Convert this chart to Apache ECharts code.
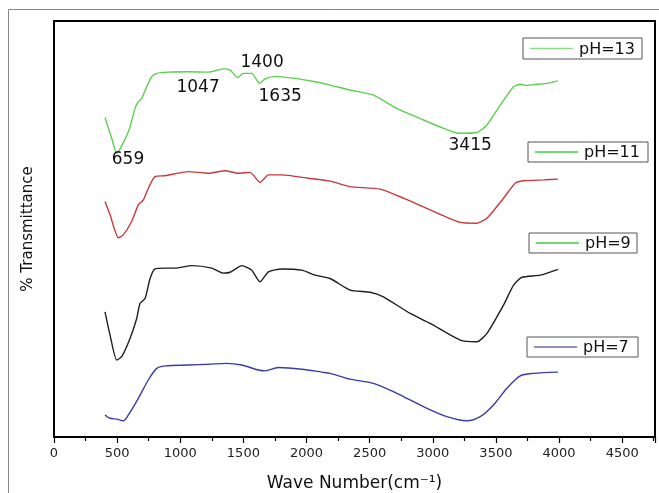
<!DOCTYPE html>
<html>
<head>
<meta charset="utf-8">
<script src="https://cdn.jsdelivr.net/npm/echarts@6/dist/echarts.min.js"></script>
<style>
  html, body { margin: 0; padding: 0; background: #fff; }
  #chart { width: 659px; height: 493px; }
</style>
</head>
<body>
<div id="chart"></div>
<script>
// wave numbers (cm-1) and offset transmittance
const wnPH13 = [404, 457, 497, 589, 642, 668, 695, 734, 774, 814, 906, 1064, 1223, 1342, 1395, 1455, 1500, 1566, 1627, 1672, 1751, 1910, 2068, 2187, 2345, 2530, 2715, 2926, 3085, 3204, 3349, 3429, 3534, 3640, 3693, 3746, 3825, 3904, 3991];
const tPH13 = [76.8, 71.8, 68.2, 73.4, 79.0, 80.6, 81.4, 84.2, 86.6, 87.4, 87.7, 87.8, 87.7, 88.5, 88.2, 86.4, 87.4, 87.4, 85.0, 86.1, 86.7, 86.2, 85.4, 84.6, 83.4, 82.2, 79.0, 76.2, 74.2, 73.0, 73.2, 75.0, 79.8, 84.2, 84.8, 84.5, 84.8, 85.0, 85.6];

const wnPH11 = [404, 444, 510, 549, 615, 668, 708, 747, 800, 880, 1064, 1223, 1355, 1460, 1553, 1632, 1698, 1804, 2015, 2187, 2345, 2583, 2768, 2979, 3217, 3349, 3429, 3560, 3653, 3719, 3877, 3991];
const tPH11 = [56.6, 53.4, 47.9, 48.6, 51.8, 55.8, 57.0, 59.8, 62.6, 62.8, 63.8, 63.4, 64.0, 63.4, 63.6, 61.2, 63.0, 63.0, 62.2, 61.5, 60.2, 59.6, 57.4, 54.6, 51.6, 51.4, 52.6, 57.4, 61.0, 61.6, 61.8, 62.0];

const wnPH9 = [404, 444, 497, 536, 602, 655, 681, 721, 761, 800, 880, 959, 1091, 1250, 1342, 1395, 1487, 1566, 1632, 1698, 1804, 1963, 2068, 2187, 2345, 2504, 2609, 2821, 2979, 3217, 3349, 3429, 3560, 3640, 3706, 3851, 3991];
const tPH9 = [30.1, 24.5, 18.5, 19.3, 23.7, 28.5, 32.1, 33.3, 38.1, 40.4, 40.6, 40.6, 41.2, 40.6, 39.4, 39.6, 41.2, 40.1, 37.3, 39.7, 40.4, 40.1, 38.9, 38.1, 35.3, 34.8, 33.7, 29.7, 27.3, 23.3, 22.9, 24.9, 31.7, 36.5, 38.4, 38.9, 40.3];

const wnPH7 = [404, 444, 497, 549, 589, 668, 747, 814, 880, 1064, 1223, 1368, 1487, 1619, 1672, 1777, 1963, 2121, 2187, 2345, 2530, 2715, 2926, 3112, 3270, 3376, 3481, 3587, 3693, 3798, 3991];
const tPH7 = [5.3, 4.5, 4.3, 3.9, 5.3, 9.3, 13.7, 16.5, 17.1, 17.3, 17.5, 17.7, 17.3, 16.1, 15.9, 16.7, 16.3, 15.6, 15.3, 13.9, 12.9, 10.5, 7.3, 4.9, 3.9, 4.9, 7.7, 11.7, 14.7, 15.3, 15.6];

// peak annotations on the pH=13 curve (text, x, y of the label)
const peakText = ['659', '1047', '1400', '1635', '3415'];
const peakX = [586, 1141, 1648, 1791, 3296];
const peakY = [66.8, 84.0, 90.0, 81.8, 70.0];

const xTicks = [0, 500, 1000, 1500, 2000, 2500, 3000, 3500, 4000, 4500];

function pairs(xs, ys) {
  return xs.map((x, i) => [x, ys[i]]);
}

const chart = echarts.init(document.getElementById('chart'));
const font = '"DejaVu Sans", Arial, sans-serif';

function legendBox(x, y, w, h, lineColor, text) {
  return {
    type: 'group',
    children: [
      { type: 'rect', shape: { x: x, y: y, width: w, height: h },
        style: { fill: '#fff', stroke: '#555', lineWidth: 1 } },
      { type: 'line', shape: { x1: x + 7, y1: y + h / 2, x2: x + 50, y2: y + h / 2 },
        style: { stroke: lineColor, lineWidth: 1.6 } },
      { type: 'text', x: x + 56, y: y + h / 2 + 1,
        style: { text: text, font: '16px ' + font, fill: '#111', verticalAlign: 'middle' } }
    ]
  };
}

const option = {
  animation: false,
  backgroundColor: '#fff',
  grid: {
    left: 54, top: 21, right: 4, bottom: 56,
    outerBoundsMode: 'none',
    containLabel: false,
    show: true, borderColor: '#000', borderWidth: 2
  },
  xAxis: {
    type: 'value',
    min: 0, max: 4760, interval: 500,
    name: 'Wave Number(cm⁻¹)',
    nameLocation: 'middle',
    nameGap: 38,
    nameTextStyle: { fontSize: 17, color: '#111', fontFamily: font },
    axisLine: { show: true, lineStyle: { color: '#000', width: 2 } },
    axisTick: { show: true, inside: false, length: 6, lineStyle: { color: '#000', width: 1.2 } },
    minorTick: { show: true, splitNumber: 2, length: 4, lineStyle: { color: '#000', width: 1.2 } },
    axisLabel: {
      color: '#222', fontSize: 13, fontFamily: font, margin: 10,
      showMaxLabel: false,
      formatter: v => (xTicks.indexOf(v) >= 0 ? String(v) : '')
    },
    splitLine: { show: false }
  },
  yAxis: {
    type: 'value',
    min: 0, max: 100,
    name: '% Transmittance',
    nameLocation: 'middle',
    nameGap: 18,
    nameTextStyle: { fontSize: 15, color: '#111', fontFamily: font },
    axisLine: { show: true, lineStyle: { color: '#000', width: 2 } },
    axisTick: { show: false },
    axisLabel: { show: false },
    splitLine: { show: false }
  },
  series: [
    {
      name: 'pH=13', type: 'line', showSymbol: false, smooth: 0.2,
      data: pairs(wnPH13, tPH13),
      lineStyle: { color: '#5ccf4e', width: 1.4 },
      markPoint: {
        symbol: 'circle', symbolSize: 0,
        label: { show: true, position: 'inside', color: '#111', fontSize: 17, fontFamily: font,
          formatter: p => p.name },
        data: peakText.map((t, i) => ({ name: t, coord: [peakX[i], peakY[i]] }))
      }
    },
    {
      name: 'pH=11', type: 'line', showSymbol: false, smooth: 0.2,
      data: pairs(wnPH11, tPH11),
      lineStyle: { color: '#c8393d', width: 1.4 }
    },
    {
      name: 'pH=9', type: 'line', showSymbol: false, smooth: 0.2,
      data: pairs(wnPH9, tPH9),
      lineStyle: { color: '#1e1e1e', width: 1.4 }
    },
    {
      name: 'pH=7', type: 'line', showSymbol: false, smooth: 0.3,
      data: pairs(wnPH7, tPH7),
      lineStyle: { color: '#3b3ba6', width: 1.4 }
    }
  ],
  graphic: [
    { type: 'rect', shape: { x: 8.5, y: 9.5, width: 700, height: 500 },
      style: { fill: 'none', stroke: '#888', lineWidth: 1 }, silent: true },
    legendBox(523, 38, 119, 21, '#8fd98a', 'pH=13'),
    legendBox(528, 142, 120, 20, '#3fcf3f', 'pH=11'),
    legendBox(529, 233, 108, 20, '#3fcf3f', 'pH=9'),
    legendBox(527, 337, 111, 20, '#6a6aae', 'pH=7')
  ]
};

chart.setOption(option);
</script>
</body>
</html>
